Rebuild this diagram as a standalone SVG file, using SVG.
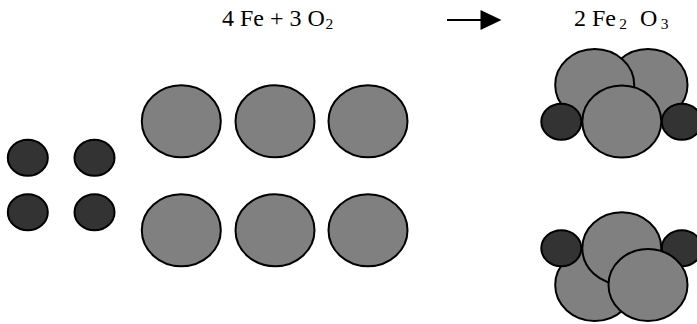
<svg xmlns="http://www.w3.org/2000/svg" width="697" height="324" viewBox="0 0 697 324">
<style>
.fe{fill:#808080;stroke:#000;stroke-width:2}
.o{fill:#333;stroke:#000;stroke-width:2}
text{font-family:"Liberation Serif","Times New Roman",serif;font-size:24px;fill:#000}
.s{font-size:15.500px}
</style>
<rect width="697" height="324" fill="#fff"/>
<g id="equation-left"><text x="222" y="25.500">4 Fe + 3 O</text><text class="s" x="325.500" y="29">2</text></g>
<g id="equation-right"><text x="574" y="25.500">2 Fe</text><text class="s" x="619.300" y="29">2</text><text x="640" y="25.500">O</text><text class="s" x="660.700" y="29">3</text></g>
<g id="connectors"><line x1="447" y1="20" x2="482" y2="20" stroke="#000" stroke-width="2"/><polygon points="480.500,10 501.500,20 480.500,30" fill="#000"/></g>
<g id="o1"><ellipse class="o" cx="27.800" cy="157.800" rx="20" ry="18"/></g>
<g id="o2"><ellipse class="o" cx="94.500" cy="157.800" rx="20" ry="18"/></g>
<g id="o3"><ellipse class="o" cx="27.800" cy="212.200" rx="20" ry="18"/></g>
<g id="o4"><ellipse class="o" cx="94.500" cy="212.200" rx="20" ry="18"/></g>
<g id="fe1"><ellipse class="fe" cx="181.300" cy="121.300" rx="39.500" ry="36"/></g>
<g id="fe2"><ellipse class="fe" cx="275" cy="121.300" rx="39.500" ry="36"/></g>
<g id="fe3"><ellipse class="fe" cx="368" cy="121.300" rx="39.500" ry="36"/></g>
<g id="fe4"><ellipse class="fe" cx="181.300" cy="230.200" rx="39.500" ry="36"/></g>
<g id="fe5"><ellipse class="fe" cx="275" cy="230.200" rx="39.500" ry="36"/></g>
<g id="fe6"><ellipse class="fe" cx="368" cy="230.200" rx="39.500" ry="36"/></g>
<g id="molecule-top">
<ellipse class="fe" cx="648" cy="85" rx="39.500" ry="36"/>
<ellipse class="fe" cx="594.700" cy="85" rx="39.500" ry="36"/>
<ellipse class="o" cx="561.300" cy="121.700" rx="20" ry="18"/>
<ellipse class="o" cx="681.800" cy="121.700" rx="20" ry="18"/>
<ellipse class="fe" cx="621.800" cy="121.500" rx="39.500" ry="36"/>
</g>
<g id="molecule-bottom">
<ellipse class="fe" cx="594.700" cy="285" rx="39.500" ry="36"/>
<ellipse class="fe" cx="621.800" cy="248.300" rx="39.500" ry="36"/>
<ellipse class="o" cx="561.300" cy="248.300" rx="20" ry="18"/>
<ellipse class="o" cx="681.800" cy="248.300" rx="20" ry="18"/>
<ellipse class="fe" cx="648" cy="285" rx="39.500" ry="36"/>
</g>
</svg>
